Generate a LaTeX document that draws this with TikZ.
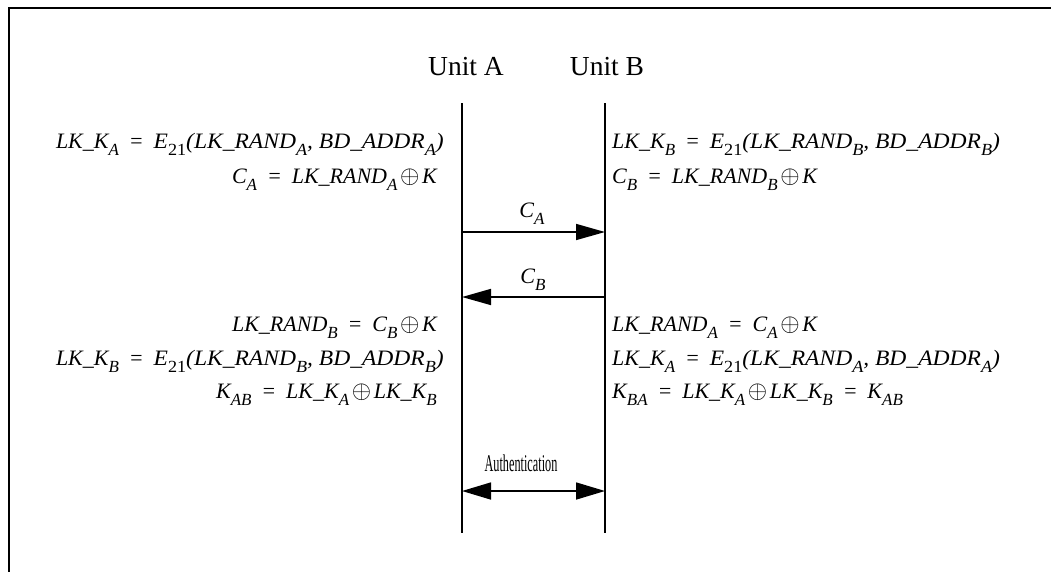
\documentclass[tikz,border=0pt]{standalone}
\usepackage{fontspec}
\setmainfont{Liberation Serif}
\usetikzlibrary{arrows.meta}
\newcommand\eqfont{\fontsize{22}{26}\selectfont\itshape}
\newcommand\subx[1]{\raisebox{-0.33em}{\fontsize{17}{17}\selectfont\itshape #1}}
\newcommand\subr[1]{\raisebox{-0.33em}{\fontsize{17}{17}\selectfont\upshape #1}}
\newcommand\xor{\hspace{0.12em}{\fontsize{25}{25}\selectfont$\oplus$}\hspace{0.12em}}
\newcommand\eqs{\hspace{0.45em}=\hspace{0.45em}}
\newcommand\wide[1]{\scalebox{1.07}[1]{#1}}
\begin{document}
\begin{tikzpicture}[x=1pt,y=-1pt,
  eqL/.style={anchor=base east,inner sep=0pt,font=\eqfont},
  eqR/.style={anchor=base west,inner sep=0pt,font=\eqfont},
  unit/.style={anchor=base,inner sep=0pt,font=\fontsize{27.5}{30}\selectfont},
  lbl/.style={anchor=base,inner sep=0pt,font=\eqfont},
  life/.style={line width=1.6pt},
  msg/.style={line width=1.6pt,-{Triangle[length=29pt,width=16pt]}},
  both/.style={line width=1.6pt,{Triangle[length=29pt,width=17pt]}-{Triangle[length=29pt,width=17pt]}},
  frame/.style={line width=2pt}]
\useasboundingbox (0,0) rectangle (1051,571);
% frame
\coordinate (fTL) at (9,8);
\coordinate (fTR) at (1052,8);
\coordinate (fBL) at (9,572);
\draw[frame] (fTR) -- (fTL) -- (fBL);
% unit titles
\node[unit] (unitA) at (466,75) {Unit A};
\node[unit] (unitB) at (607,75) {Unit B};
% lifelines
\coordinate (Atop) at (462,103);
\coordinate (Abot) at (462,533);
\coordinate (Btop) at (605,103);
\coordinate (Bbot) at (605,533);
\draw[life] (Atop) -- (Abot);
\draw[life] (Btop) -- (Bbot);
% messages
\coordinate (a1) at (462,232);
\coordinate (b1) at (605,232);
\coordinate (a2) at (462,297);
\coordinate (b2) at (605,297);
\coordinate (a3) at (462,491);
\coordinate (b3) at (605,491);
\draw[msg] (a1) -- (b1);
\draw[msg] (b2) -- (a2);
\draw[both] (a3) -- (b3);
\node[lbl] (lCA) at (532,217) {C\subx{A}};
\node[lbl] (lCB) at (533,283) {C\subx{B}};
\node[anchor=base,inner sep=0pt,font=\fontsize{24}{26}\selectfont] (lauth) at (521,471) {\scalebox{0.51}[1]{Authentication}};
% left upper
\node[eqL] (L1) at (444,148) {LK\_K\subx{A}\eqs\wide{E\subr{21}(LK\_RAND\subx{A}, BD\_ADDR\subx{A})}};
\node[eqL] (L2) at (437,183) {C\subx{A}\eqs LK\_RAND\subx{A}\xor K};
% right upper
\node[eqR] (R1) at (612,148) {LK\_K\subx{B}\eqs\wide{E\subr{21}(LK\_RAND\subx{B}, BD\_ADDR\subx{B})}};
\node[eqR] (R2) at (612,183) {C\subx{B}\eqs LK\_RAND\subx{B}\xor K};
% left lower
\node[eqL] (L3) at (437,331) {LK\_RAND\subx{B}\eqs C\subx{B}\xor K};
\node[eqL] (L4) at (444,365) {LK\_K\subx{B}\eqs\wide{E\subr{21}(LK\_RAND\subx{B}, BD\_ADDR\subx{B})}};
\node[eqL] (L5) at (437,398) {K\subx{AB}\eqs LK\_K\subx{A}\xor LK\_K\subx{B}};
% right lower
\node[eqR] (R3) at (612,331) {LK\_RAND\subx{A}\eqs C\subx{A}\xor K};
\node[eqR] (R4) at (612,365) {LK\_K\subx{A}\eqs\wide{E\subr{21}(LK\_RAND\subx{A}, BD\_ADDR\subx{A})}};
\node[eqR] (R5) at (612,398) {K\subx{BA}\eqs LK\_K\subx{A}\xor LK\_K\subx{B}\eqs K\subx{AB}};
\end{tikzpicture}
\end{document}
